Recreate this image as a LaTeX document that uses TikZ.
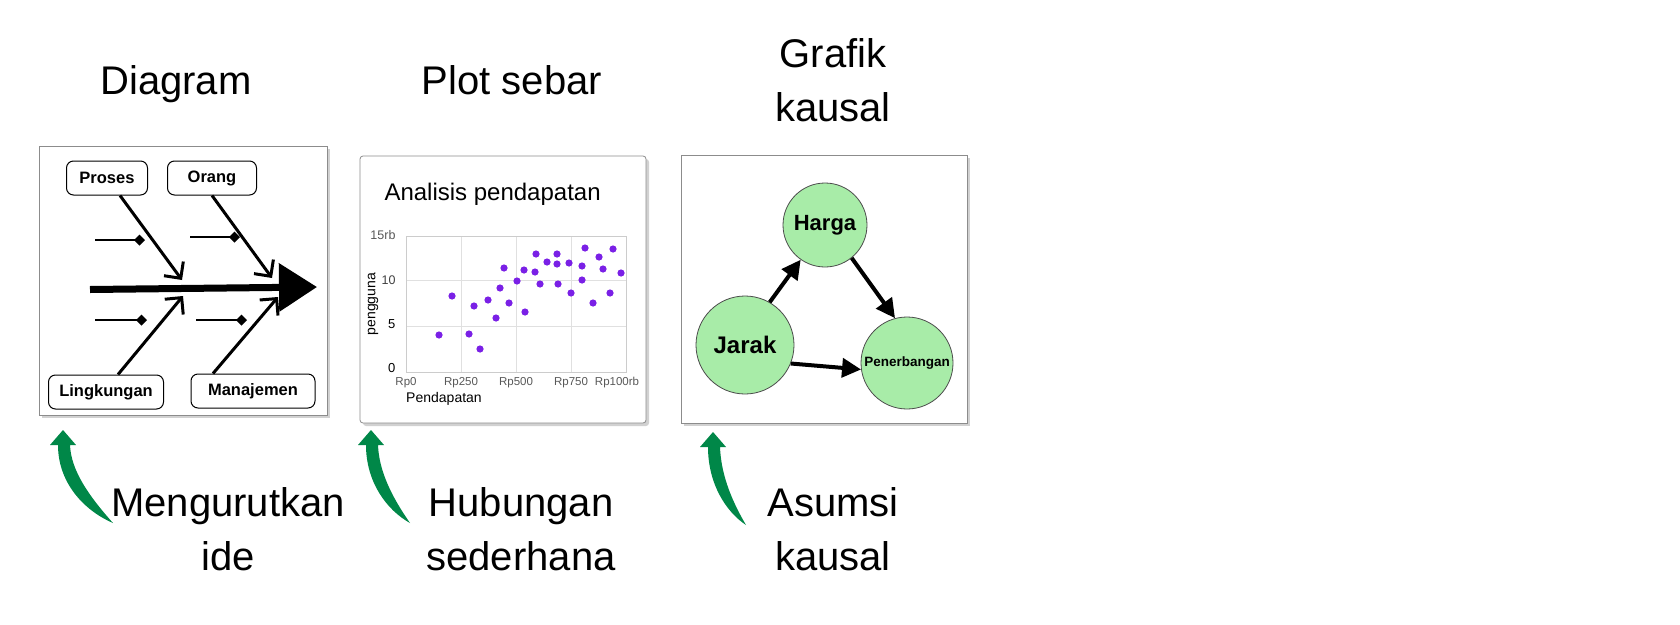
\documentclass[tikz,border=0pt]{standalone}
\usepackage{fontspec}
\setmainfont{Liberation Sans}
\usetikzlibrary{arrows.meta, shadows}
\definecolor{nodegreen}{RGB}{168,236,168}
\definecolor{arrowgreen}{RGB}{0,135,72}
\definecolor{dotpurple}{RGB}{122,32,230}

\begin{document}
\begin{tikzpicture}[x=1pt, y=-1pt,
  panel/.style={rectangle, draw=black!45, line width=0.8pt, fill=white, drop shadow={shadow xshift=3pt, shadow yshift=-3pt, fill=black!40, opacity=0.45}},
  heading/.style={font=\fontsize{40}{54}\selectfont, align=center, anchor=base},
  bone/.style={rectangle, draw, line width=1pt, fill=white, rounded corners=7pt, minimum height=34pt, font=\fontsize{16.5}{20}\selectfont\bfseries},
  spine/.style={line width=7pt, -{Triangle[length=38pt, width=47pt]}},
  branch/.style={line width=3pt, -{Straight Barb[length=12pt, width=24pt]}},
  twig/.style={line width=2pt, -{Diamond[length=11pt, width=11pt]}},
  ticklabel/.style={font=\fontsize{11.5}{13}\selectfont, text=black!65},
  axislabel/.style={font=\fontsize{14}{16}\selectfont},
  grid line/.style={draw=black!12, line width=0.8pt},
  cause/.style={circle, draw=black!70, line width=0.8pt, fill=nodegreen, inner sep=0pt},
  causal/.style={line width=4pt, -{Triangle[length=19pt, width=19pt]}},
  pics/upcurve/.style={code={
    \fill[arrowgreen] (0,0) -- (13,15) -- (7,15)
      .. controls (8,40) and ({0.5*#1},65) .. (#1,93)
      .. controls ({0.4*#1},80) and (-5,52) .. (-5,15)
      -- (-13,15) -- cycle;
  }}
]
\useasboundingbox[fill=white] (0,0) rectangle (1680,624);

% Headings
\node[heading] (diaghead) at (176,94) {Diagram};
\node[heading] (plothead) at (512,94) {Plot sebar};
\node[heading] (graphhead) at (833,121) {Grafik\\kausal};

% Fishbone diagram
\node[panel, minimum width=288pt, minimum height=269pt] (diagpanel) at (183,280.5) {};
\node[bone, minimum width=81pt] (proses) at (107,178) {Proses};
\node[bone, minimum width=89pt] (orang) at (212,178) {Orang};
\node[bone, minimum width=115pt] (lingk) at (106,392) {Lingkungan};
\node[bone, minimum width=124pt] (manaj) at (253,391) {Manajemen};
\coordinate (spinetail) at (90,289.5);
\coordinate (spinehead) at (317,287);
\coordinate (prostip) at (182,280);
\coordinate (orangtip) at (272,278);
\coordinate (lingktip) at (183,296);
\coordinate (manajtip) at (278,297);
\draw[spine] (spinetail) -- (spinehead);
\draw[branch] ([xshift=13pt]proses.south) -- (prostip);
\draw[branch] (orang.south) -- (orangtip);
\draw[branch] ([xshift=12pt]lingk.north) -- (lingktip);
\draw[branch] ([xshift=-40pt]manaj.north) -- (manajtip);
\coordinate (prostwig) at (95,240);
\coordinate (orangtwig) at (190,237);
\coordinate (lingktwig) at (95,320);
\coordinate (manajtwig) at (196,320);
\draw[twig] (prostwig) -- (145,240);
\draw[twig] (orangtwig) -- (240,237);
\draw[twig] (lingktwig) -- (147,320);
\draw[twig] (manajtwig) -- (247,320);

% Scatter plot
\node[panel, rounded corners=3pt, minimum width=286pt, minimum height=267pt] (plotpanel) at (503,289.5) {};
\node[anchor=base west, font=\fontsize{24}{28}\selectfont] (plotname) at (381,200) {Analisis pendapatan};
\foreach \gx in {461,516,571} \draw[grid line] (\gx,236) -- (\gx,372);
\foreach \gy in {280,326} \draw[grid line] (406,\gy) -- (626,\gy);
\draw[draw=black!20, line width=0.8pt] (406,236) rectangle (626,372);
\node[ticklabel, anchor=east, font=\fontsize{12.5}{14}\selectfont] (y15) at (399,235) {15rb};
\node[ticklabel, anchor=east, font=\fontsize{12.5}{14}\selectfont, text=black!75] (y10) at (399,280) {10};
\node[ticklabel, anchor=east, text=black, font=\fontsize{13}{15}\selectfont] (y5) at (399,324) {5};
\node[ticklabel, anchor=east, text=black, font=\fontsize{13}{15}\selectfont] (y0) at (399,368) {0};
\foreach \tx/\tl in {406/Rp0, 461/Rp250, 516/Rp500, 571/Rp750, 617/Rp100rb}
  \node[ticklabel] (x\tl) at (\tx,383) {\tl};
\node[axislabel, rotate=90] (ylabel) at (373,304) {pengguna};
\node[axislabel] (xlabel) at (444,399) {Pendapatan};
\foreach \px/\py in {439/335, 452/296, 469/334, 474/306, 480/349, 488/300, 496/318,
  500/288, 504/268, 509/303, 517/281, 524/270, 525/312, 535/272, 536/254, 540/284,
  547/262, 557/254, 557/264, 558/284, 569/263, 571/293, 582/266, 582/280, 585/248,
  593/303, 599/257, 603/269, 610/293, 613/249, 621/273}
  \fill[dotpurple] (\px,\py) circle (3.6pt);

% Causal graph
\node[panel, minimum width=286pt, minimum height=268pt] (causalpanel) at (824,289) {};
\node[cause, minimum size=84pt, font=\fontsize{22}{26}\selectfont\bfseries] (harga) at (825,225) {Harga};
\node[cause, minimum size=98pt, font=\fontsize{24}{28}\selectfont\bfseries] (jarak) at (745,345) {Jarak};
\node[cause, minimum size=92pt, font=\fontsize{13.5}{16}\selectfont\bfseries] (terbang) at (907,363) {Penerbangan};
\draw[causal] (jarak.60) -- (harga.235);
\draw[causal] (harga.-51) -- (terbang.105);
\draw[causal] (jarak.-22) -- (terbang.188);

% Notes
\pic (ordercurve) at (63,430) {upcurve=50};
\pic (linkcurve) at (371,430) {upcurve=39};
\pic (causecurve) at (713,432) {upcurve=33};
\node[heading] (ordernote) at (228,570) {Mengurutkan\\ide};
\node[heading] (linknote) at (521,570) {Hubungan\\sederhana};
\node[heading] (causenote) at (833,570) {Asumsi\\kausal};

\end{tikzpicture}
\end{document}
